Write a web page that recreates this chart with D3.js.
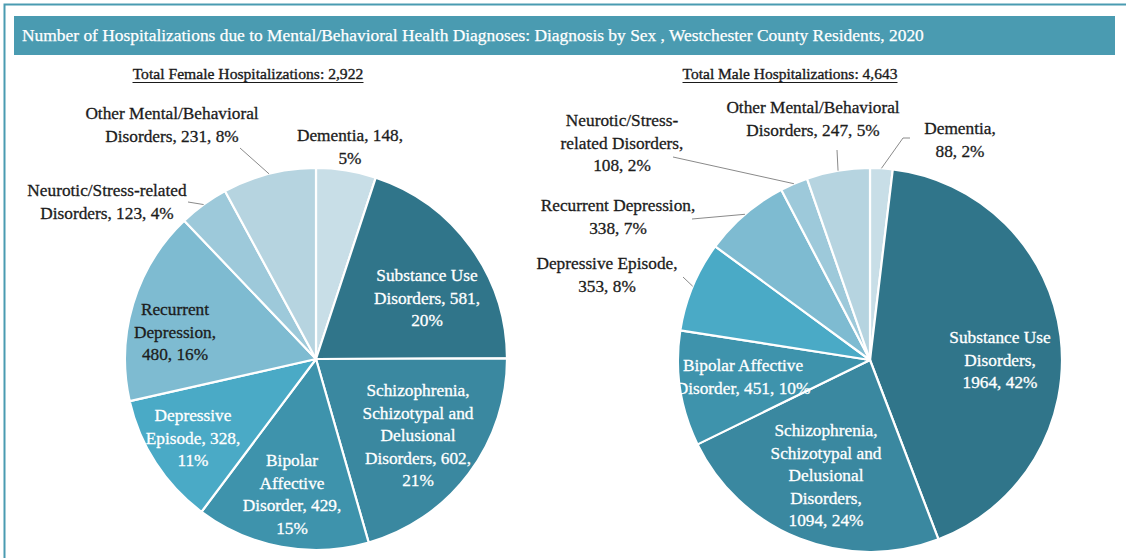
<!DOCTYPE html>
<html>
<head>
<meta charset="utf-8">
<script src="https://cdn.jsdelivr.net/npm/d3@7"></script>
<style>
  body { margin: 0; background: #fff; }
  svg { display: block; }
  text { font-family: "Liberation Serif", "DejaVu Serif", serif; }
</style>
</head>
<body>
<div id="chart"></div>
<script>
// data
const categories = ["Dementia", "Substance Use Disorders", "Schizophrenia, Schizotypal and Delusional Disorders",
  "Bipolar Affective Disorder", "Depressive Episode", "Recurrent Depression",
  "Neurotic/Stress-related Disorders", "Other Mental/Behavioral Disorders"];
const femaleValues = [148, 581, 602, 429, 328, 480, 123, 231];
const maleValues = [88, 1964, 1094, 451, 353, 338, 108, 247];
const femaleLabels = [
  ["Dementia, 148,", "5%"],
  ["Substance Use", "Disorders, 581,", "20%"],
  ["Schizophrenia,", "Schizotypal and", "Delusional", "Disorders, 602,", "21%"],
  ["Bipolar", "Affective", "Disorder, 429,", "15%"],
  ["Depressive", "Episode, 328,", "11%"],
  ["Recurrent", "Depression,", "480, 16%"],
  ["Neurotic/Stress-related", "Disorders, 123, 4%"],
  ["Other Mental/Behavioral", "Disorders, 231, 8%"]
];
const maleLabels = [
  ["Dementia,", "88, 2%"],
  ["Substance Use", "Disorders,", "1964, 42%"],
  ["Schizophrenia,", "Schizotypal and", "Delusional", "Disorders,", "1094, 24%"],
  ["Bipolar Affective", "Disorder, 451, 10%"],
  ["Depressive Episode,", "353, 8%"],
  ["Recurrent Depression,", "338, 7%"],
  ["Neurotic/Stress-", "related Disorders,", "108, 2%"],
  ["Other Mental/Behavioral", "Disorders, 247, 5%"]
];
const titleText = "Number of Hospitalizations due to Mental/Behavioral Health Diagnoses: Diagnosis by Sex , Westchester County Residents, 2020";
const femaleTitle = "Total Female Hospitalizations: 2,922";
const maleTitle = "Total Male Hospitalizations: 4,643";

const sliceColors = ["#c8dee7", "#30758a", "#3a88a0", "#3e93ac", "#4aaac6", "#7ebbd1", "#9dc9da", "#b6d4e0"];
const teal = "#4a9bb1";

// label placement (first line centre) and leader line start points
const femaleLayout = [
  {x: 350, y: 135, dark: true},
  {x: 427, y: 275},
  {x: 418, y: 390},
  {x: 292, y: 460},
  {x: 193, y: 415},
  {x: 175, y: 309, dark: true},
  {x: 107, y: 190, dark: true, lead: [[188, 202]]},
  {x: 172, y: 113, dark: true, lead: [[240, 148]]}
];
const maleLayout = [
  {x: 960, y: 128, dark: true, lead: [[910, 138], [903, 138]]},
  {x: 1000, y: 337},
  {x: 826, y: 430},
  {x: 743, y: 365},
  {x: 607, y: 263, dark: true, lead: [[683, 277]]},
  {x: 618, y: 205, dark: true, lead: [[692, 219]]},
  {x: 622, y: 120, dark: true, lead: [[673, 157]]},
  {x: 813, y: 107, dark: true, lead: [[837, 150]]}
];

const W = 1126, H = 558;
const lineH = 22.6;

const svg = d3.select('#chart').append('svg')
  .attr('width', W)
  .attr('height', H);

// frame and title bar
svg.append('rect')
  .attr('x', 4.5).attr('y', 4.5)
  .attr('width', 1300).attr('height', 800)
  .attr('fill', 'none')
  .attr('stroke', teal)
  .attr('stroke-width', 2);

svg.append('rect')
  .attr('x', 14).attr('y', 16)
  .attr('width', 1101).attr('height', 39)
  .attr('fill', teal);

function fitText(sel, target, size) {
  sel.attr('font-size', size);
  let w = sel.node().getComputedTextLength();
  sel.attr('font-size', size * target / w);
}

let title = svg.append('text')
  .attr('x', 22).attr('y', 41)
  .attr('fill', '#fff')
  .attr('stroke', '#fff')
  .attr('stroke-width', 0.25)
  .text(titleText);
fitText(title, 903, 16);

function subTitle(txt, cx, width) {
  let t = svg.append('text')
    .attr('x', cx).attr('y', 79)
    .attr('text-anchor', 'middle')
    .attr('fill', '#1a1a1a')
    .attr('stroke', '#1a1a1a')
    .attr('stroke-width', 0.35)
    .text(txt);
  fitText(t, width, 16);
  svg.append('line')
    .attr('x1', cx - width / 2).attr('x2', cx + width / 2)
    .attr('y1', 82.5).attr('y2', 82.5)
    .attr('stroke', '#1a1a1a')
    .attr('stroke-width', 1.2);
}
subTitle(femaleTitle, 248, 231);
subTitle(maleTitle, 790, 215);

const pie = d3.pie().sort(null).value(d => d);

function drawPie(values, labels, layout, cx, cy, r) {
  let arcs = pie(values);
  let arc = d3.arc().innerRadius(0).outerRadius(r);
  let g = svg.append('g')
    .attr('class', 'pie')
    .attr('transform', `translate(${cx},${cy})`);

  g.selectAll('path')
    .data(arcs)
    .enter()
    .append('path')
    .attr('d', arc)
    .attr('fill', (d, i) => sliceColors[i])
    .attr('stroke', '#fff')
    .attr('stroke-width', 2.2)
    .attr('stroke-linejoin', 'round');

  // leader lines end on the slice edge at its mid angle
  let line = d3.line();
  arcs.forEach((d, i) => {
    let p = layout[i];
    if (!p.lead) return;
    let a = (d.startAngle + d.endAngle) / 2;
    let end = [cx + r * Math.sin(a), cy - r * Math.cos(a)];
    svg.append('path')
      .attr('d', line(p.lead.concat([end])))
      .attr('fill', 'none')
      .attr('stroke', '#8a8a8a')
      .attr('stroke-width', 1);
  });

  arcs.forEach((d, i) => {
    let p = layout[i];
    let c = p.dark ? '#1c1c1c' : '#ffffff';
    let t = svg.append('text')
      .attr('text-anchor', 'middle')
      .attr('font-size', 17.3)
      .attr('fill', c)
      .attr('stroke', c)
      .attr('stroke-width', 0.3);
    labels[i].forEach((s, k) => {
      t.append('tspan')
        .attr('x', p.x)
        .attr('y', p.y + k * lineH)
        .attr('dy', '0.35em')
        .text(s);
    });
  });
}

drawPie(femaleValues, femaleLabels, femaleLayout, 316, 359, 191);
drawPie(maleValues, maleLabels, maleLayout, 870, 360, 192);
</script>
</body>
</html>
